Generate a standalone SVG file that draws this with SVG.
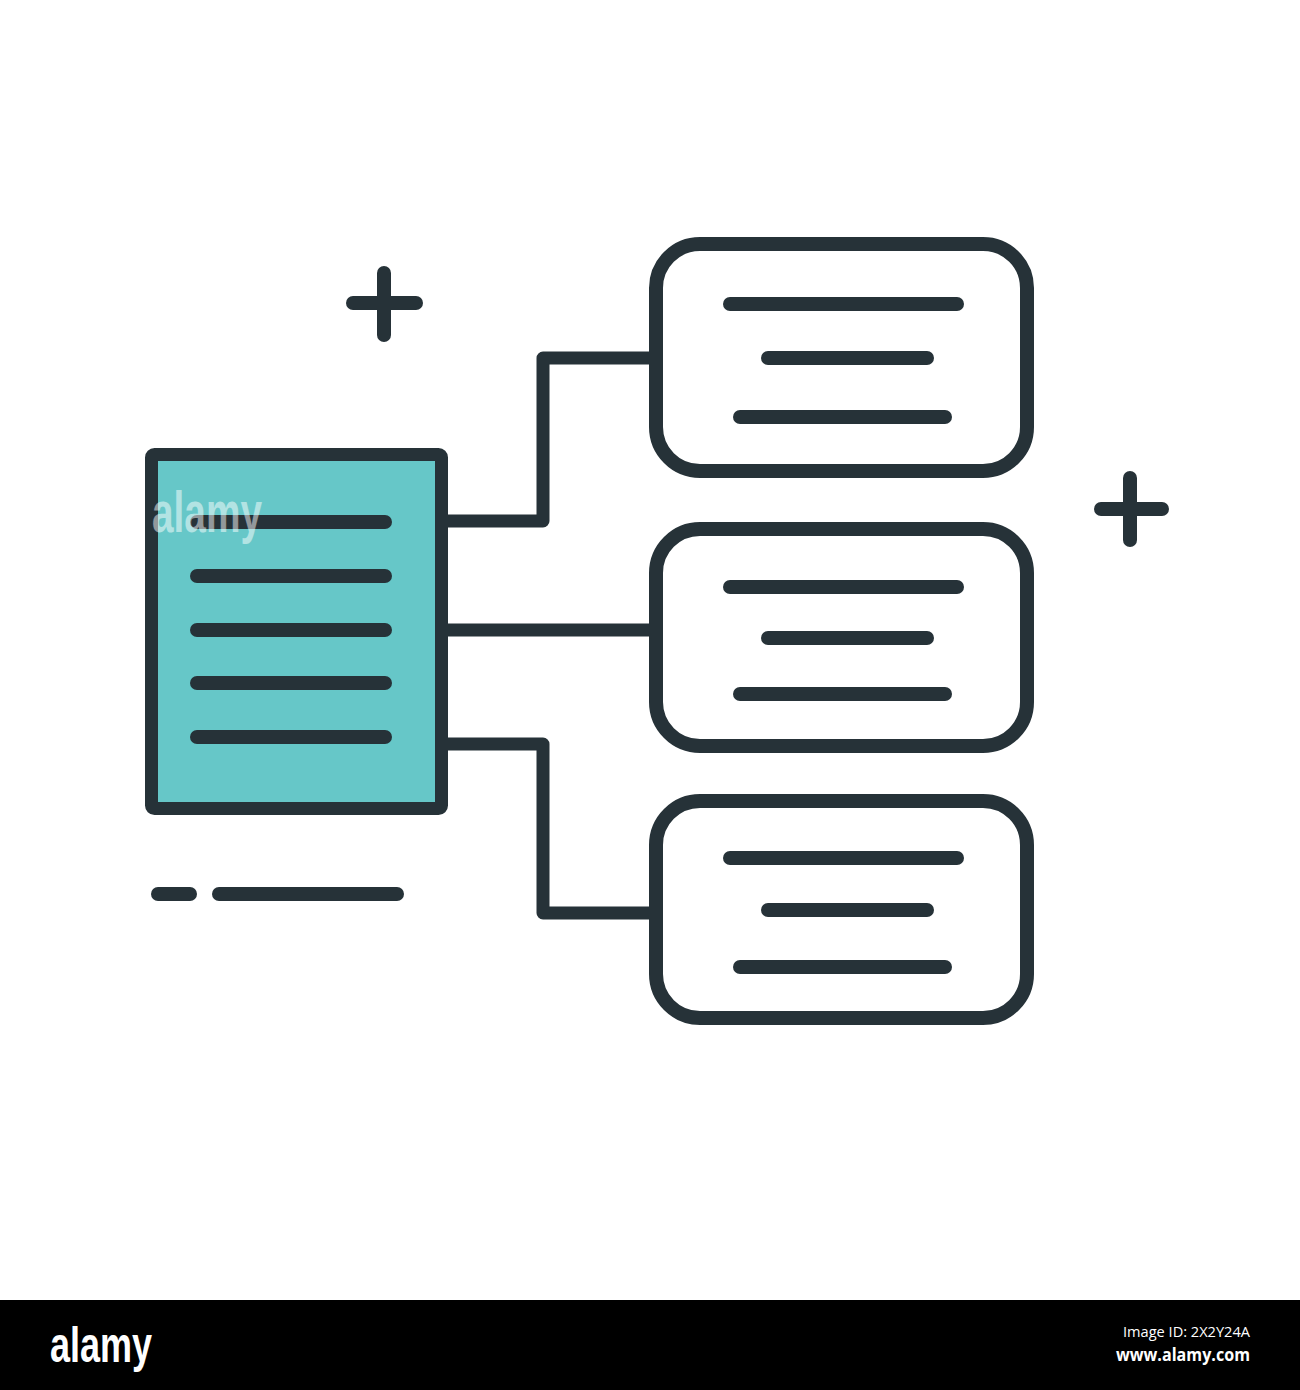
<svg xmlns="http://www.w3.org/2000/svg" width="1300" height="1390" viewBox="0 0 1300 1390">
<style>
.ln{stroke:#263238;stroke-width:14;stroke-linecap:round;fill:none}
.box{stroke:#263238;stroke-width:14;fill:#ffffff}
.conn{stroke:#263238;stroke-width:13;fill:none;stroke-linejoin:round}
.wm{font-family:"Liberation Sans Narrow","Liberation Sans",sans-serif;font-weight:bold;fill:#ffffff;fill-opacity:0.5}
</style>
<rect x="0" y="0" width="1300" height="1390" fill="#ffffff"/>
<g id="connectors">
<path class="conn" d="M441 521 H543 V358 H652"/>
<path class="conn" d="M441 630 H652"/>
<path class="conn" d="M441 744 H543 V913 H652"/>
</g>
<g id="doc">
<rect x="151.5" y="454.5" width="290" height="354" rx="3" fill="#66C7C8" stroke="#263238" stroke-width="13"/>
<line class="ln" x1="197" y1="522" x2="385" y2="522"/>
<line class="ln" x1="197" y1="576" x2="385" y2="576"/>
<line class="ln" x1="197" y1="630" x2="385" y2="630"/>
<line class="ln" x1="197" y1="683" x2="385" y2="683"/>
<line class="ln" x1="197" y1="737" x2="385" y2="737"/>
</g>
<g id="box1">
<rect class="box" x="656" y="244" width="371" height="227" rx="44"/>
<line class="ln" x1="730" y1="304" x2="957" y2="304"/>
<line class="ln" x1="768" y1="358" x2="927" y2="358"/>
<line class="ln" x1="740" y1="417" x2="945" y2="417"/>
</g>
<g id="box2">
<rect class="box" x="656" y="529" width="371" height="217" rx="44"/>
<line class="ln" x1="730" y1="587" x2="957" y2="587"/>
<line class="ln" x1="768" y1="638" x2="927" y2="638"/>
<line class="ln" x1="740" y1="694" x2="945" y2="694"/>
</g>
<g id="box3">
<rect class="box" x="656" y="801" width="371" height="217" rx="44"/>
<line class="ln" x1="730" y1="858" x2="957" y2="858"/>
<line class="ln" x1="768" y1="910" x2="927" y2="910"/>
<line class="ln" x1="740" y1="967" x2="945" y2="967"/>
</g>
<g id="decor">
<line class="ln" x1="353" y1="303" x2="416" y2="303" stroke-width="13"/>
<line class="ln" x1="384" y1="273" x2="384" y2="335" stroke-width="13"/>
<line class="ln" x1="1101" y1="509" x2="1162" y2="509" stroke-width="13"/>
<line class="ln" x1="1130" y1="478" x2="1130" y2="540" stroke-width="13"/>
<line class="ln" x1="158" y1="894" x2="190" y2="894" stroke-width="13"/>
<line class="ln" x1="219" y1="894" x2="397" y2="894" stroke-width="13"/>
</g>
<text class="wm" x="152" y="532" font-size="58" textLength="110" lengthAdjust="spacingAndGlyphs">alamy</text>
<g id="footer">
<rect x="0" y="1300" width="1300" height="90" fill="#000000"/>
<text x="50" y="1362" font-family="Liberation Sans Narrow, Liberation Sans, sans-serif" font-weight="bold" font-size="50" fill="#ffffff" textLength="102" lengthAdjust="spacingAndGlyphs">alamy</text>
<text x="1250" y="1337" text-anchor="end" font-family="Open Sans, DejaVu Sans, sans-serif" font-size="14" fill="#ffffff" textLength="127" lengthAdjust="spacingAndGlyphs">Image ID: 2X2Y24A</text>
<text x="1250" y="1361" text-anchor="end" font-family="Open Sans, DejaVu Sans, sans-serif" font-weight="bold" font-size="17" fill="#ffffff" textLength="134" lengthAdjust="spacingAndGlyphs">www.alamy.com</text>
</g>
</svg>
